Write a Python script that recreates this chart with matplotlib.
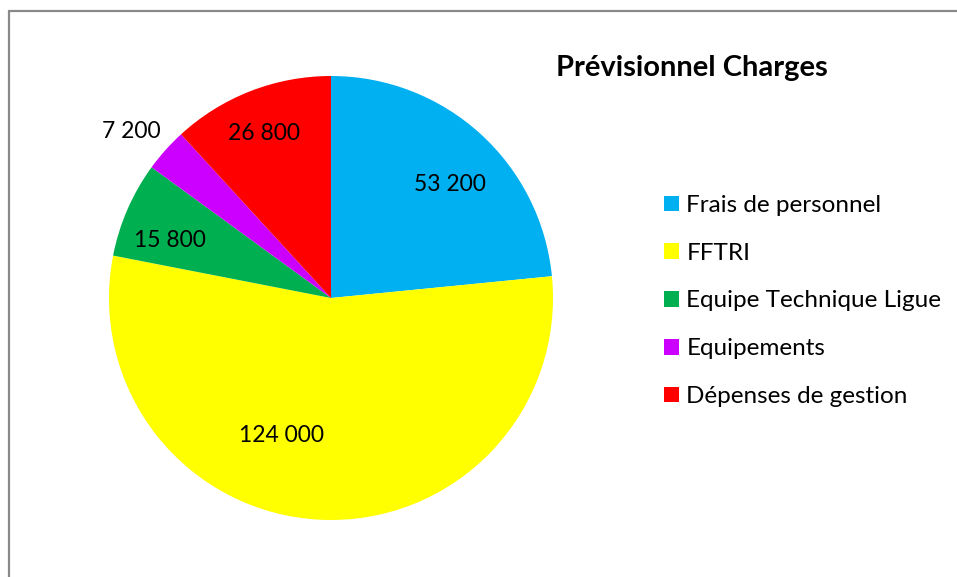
import numpy as np
import matplotlib
matplotlib.use('Agg')
import matplotlib.pyplot as plt
from matplotlib.patches import Rectangle

plt.rcParams['font.family'] = ['Lato', 'DejaVu Sans']

categories = ['Frais de personnel', 'FFTRI', 'Equipe Technique Ligue', 'Equipements', 'Dépenses de gestion']
values = [53200, 124000, 15800, 7200, 26800]
value_labels = ['53 200', '124 000', '15 800', '7 200', '26 800']
colors = ['#00B0F0', '#FFFF00', '#00B050', '#CC00FF', '#FF0000']

W, H = 957, 577
fig = plt.figure(figsize=(W / 100, H / 100), dpi=100)

# pie centre (331, 298) px, radius 222 px
cx, cy, r = 331, 298, 222
ax = fig.add_axes([(cx - r) / W, (H - cy - r) / H, 2 * r / W, 2 * r / H])
wedges, _ = ax.pie(values, colors=colors, startangle=90, counterclock=False,
                   wedgeprops=dict(linewidth=0))
ax.set_xlim(-1, 1)
ax.set_ylim(-1, 1)
ax.set_aspect('equal')

# label placement: radius and angle shift per wedge (Excel best fit look)
lab_r = [0.74, 0.66, 0.77, 1.17, 0.80]
lab_shift = [-4, -17, 4, 2, 1]
for w, txt, rr, sh in zip(wedges, value_labels, lab_r, lab_shift):
    ang = np.deg2rad((w.theta1 + w.theta2) / 2 + sh)
    ax.text(rr * np.cos(ang), rr * np.sin(ang), txt, ha='center', va='center',
            fontsize=16.5, color='black', clip_on=False)

fig.text(692 / W, 1 - 68 / H, 'Prévisionnel Charges', ha='center', va='center',
         fontsize=21, fontweight='bold')

fig.legend(wedges, categories, loc='upper left', bbox_to_anchor=(664 / W, 1 - 195 / H),
           frameon=False, fontsize=17.5, handlelength=0.62, handleheight=0.62,
           handletextpad=0.3, labelspacing=1.1, borderaxespad=0, borderpad=0)

fig.patches.append(Rectangle((9 / W, -0.1), 1.2, 1 - 11 / H + 0.1, transform=fig.transFigure,
                             fill=False, edgecolor='#898989', linewidth=1.6))

fig.savefig('out.png', dpi=100)
